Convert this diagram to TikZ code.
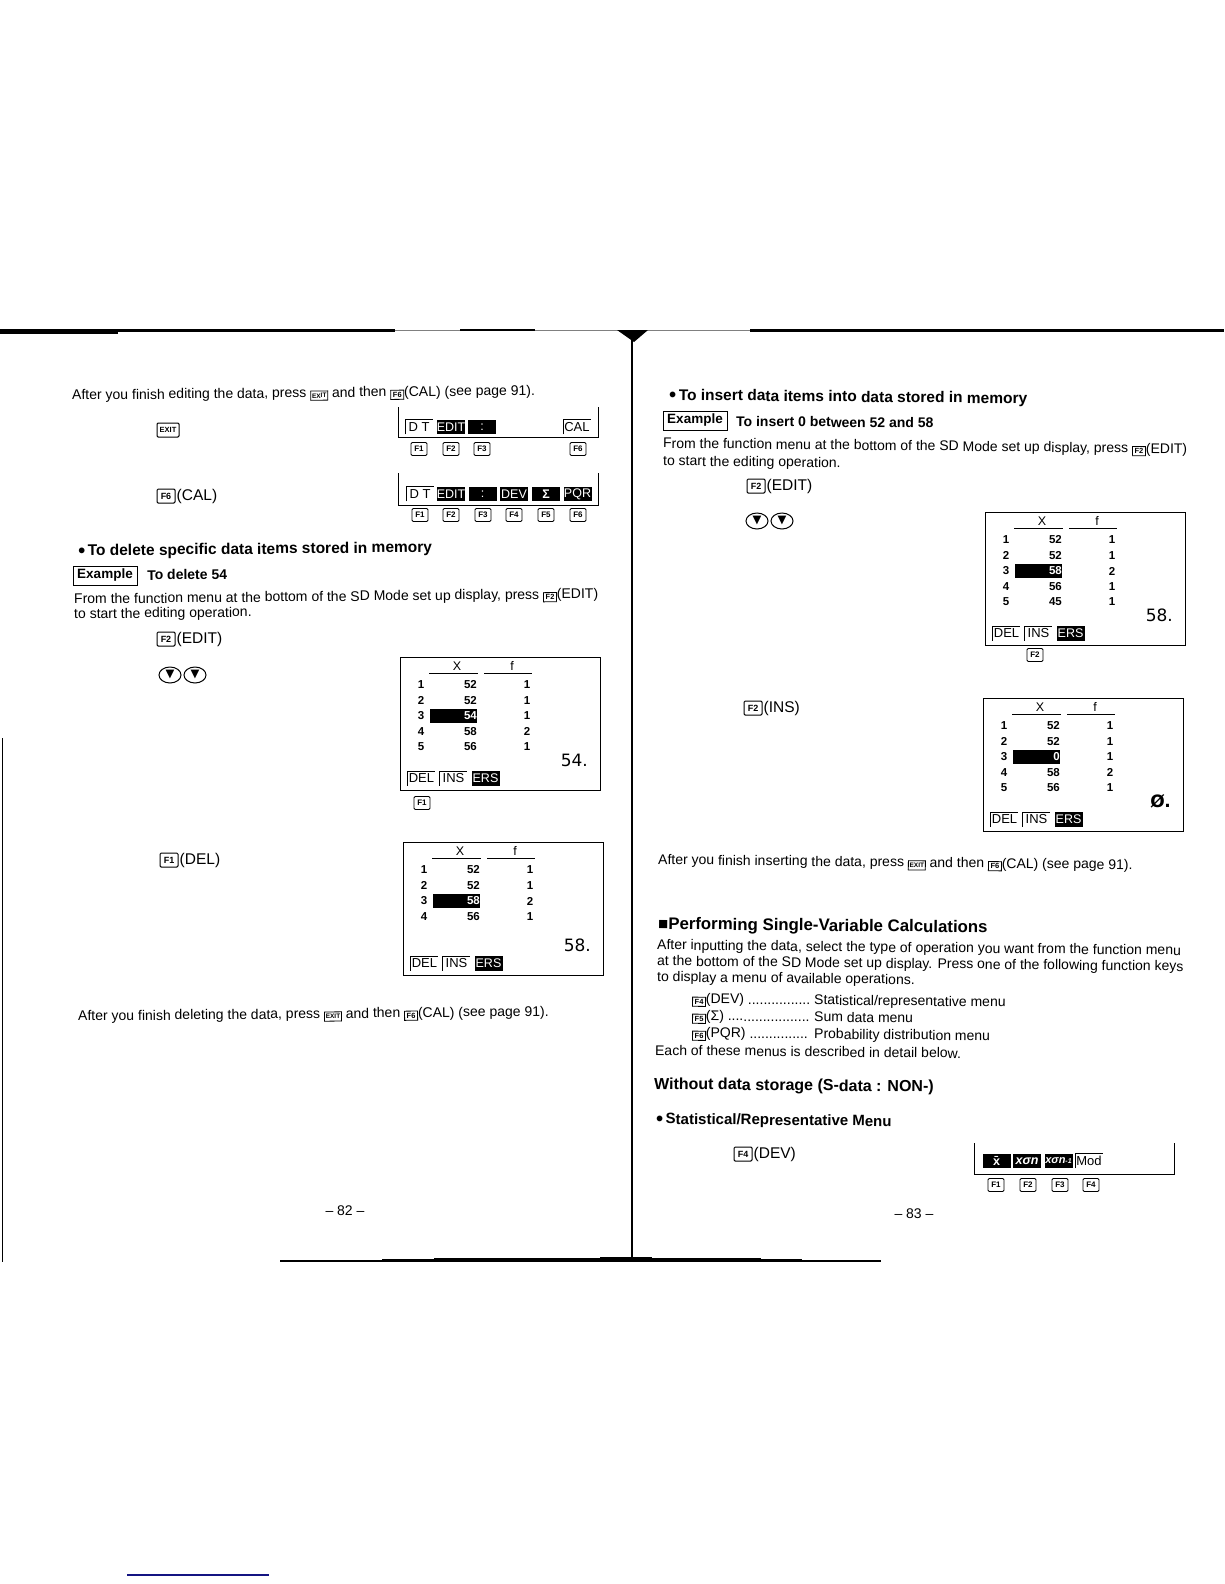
\documentclass[tikz,border=0pt]{standalone}
\usepackage{fontspec}
\setmainfont{Liberation Sans}
\newfontfamily\dejavu{DejaVu Sans}
\usetikzlibrary{positioning,shapes.geometric}

\newcommand{\keyin}[1]{\raisebox{-0.6pt}{\setlength{\fboxsep}{0.6pt}\setlength{\fboxrule}{.8pt}\fbox{\makebox[11pt]{\rule[-1.2pt]{0pt}{7.2pt}\fontsize{7.5}{7}\selectfont\bfseries #1}}}}
\newcommand{\exitin}{\raisebox{-0.6pt}{\setlength{\fboxsep}{0.6pt}\setlength{\fboxrule}{.8pt}\fbox{\makebox[15pt]{\rule[-1.2pt]{0pt}{7.2pt}\fontsize{6.5}{7}\selectfont\bfseries EXIT}}}}
\newcommand{\headdot}{\raisebox{-1.5pt}{\fontsize{20}{20}\selectfont\textbullet}}

\tikzset{
  bodyl/.style={anchor=west,inner sep=0pt,rotate=0.6,font=\fontsize{14}{15}\selectfont},
  bodyr/.style={anchor=west,inner sep=0pt,rotate=-0.6,font=\fontsize{14}{15}\selectfont},
  headl/.style={bodyl,font=\fontsize{15.5}{17}\selectfont\bfseries},
  headr/.style={bodyr,font=\fontsize{15.5}{17}\selectfont\bfseries},
  boldl/.style={bodyl,font=\fontsize{14}{15}\selectfont\bfseries},
  boldr/.style={bodyr,font=\fontsize{14}{15}\selectfont\bfseries},
  exbox/.style={draw,line width=1pt,inner sep=0pt,minimum height=19pt,font=\fontsize{13.5}{15}\selectfont\bfseries},
  keycap/.style={draw,line width=.9pt,rounded corners=1.2pt,inner sep=0pt,minimum width=16pt,minimum height=13pt,font=\fontsize{8}{8}\selectfont\bfseries},
  keymain/.style={keycap,line width=1pt,minimum width=18pt,minimum height=14pt,font=\fontsize{9}{9}\selectfont\bfseries},
  downkey/.style={draw,line width=1pt,ellipse,inner sep=0pt,minimum width=22pt,minimum height=16pt,font=\dejavu\fontsize{11.5}{11}\selectfont},
  softfill/.style={fill=black,text=white,inner sep=0pt,minimum width=28pt,minimum height=14.5pt,font=\fontsize{12.5}{13}\selectfont},
  softopen/.style={inner sep=0pt,minimum width=27pt,minimum height=14.5pt,font=\fontsize{13}{13}\selectfont},
  lcdframe/.style={draw,line width=1pt,inner sep=0pt,minimum width=200pt,minimum height=133pt},
  lcdbar/.style={fill=black,inner sep=0pt,minimum width=47pt,minimum height=14pt},
  lcdcell/.style={inner sep=0pt,font=\fontsize{11.5}{12}\selectfont\bfseries},
  lcdbig/.style={anchor=east,inner sep=0pt,font=\dejavu\fontsize{17}{17}\selectfont},
  keytext/.style={inner sep=0pt,font=\fontsize{15.5}{16}\selectfont},
  pagenum/.style={inner sep=0pt,font=\fontsize{14}{15}\selectfont},
}

% open softkey: left and top edge only
\newcommand{\softkey}[3]{
  \node[softopen] (#1) at #2 {#3};
  \draw[line width=.8pt] (#1.south west) -- (#1.north west) -- (#1.north east);
}

% data screen, rows as idx/x/f, drawn at the place of the first one
\newcommand{\lcdscreen}[5]{
  \begin{scope}[shift={(#2,#3)}]
    \node[lcdframe] (#1-frame) at (500.5,723.5) {};
    \node[lcdcell,font=\fontsize{12.5}{13}\selectfont] (#1-x) at (457,666) {X};
    \node[lcdcell,font=\fontsize{12.5}{13}\selectfont] (#1-f) at (512,666) {f};
    \draw[line width=1pt] (429,673.5) -- (478,673.5) (484,673) -- (532,673);
    \node[lcdbar] (#1-bar) at (453.5,715.5) {};
    \foreach \idx/\val/\frq in {#4} {
      \pgfmathsetmacro\yy{669.5+15.5*\idx}
      \ifnum\idx=3 \def\valcol{white}\else\def\valcol{black}\fi
      \node[lcdcell] (#1-i\idx) at (421,\yy) {\idx};
      \node[lcdcell,anchor=east,text=\valcol] (#1-v\idx) at (477,\yy) {\val};
      \node[lcdcell] (#1-n\idx) at (527,\yy) {\frq};
    }
    \node[lcdbig] (#1-big) at (588,760) {#5};
    \softkey{#1-del}{(421.5,778.5)}{DEL}
    \softkey{#1-ins}{(453.5,778.5)}{INS}
    \node[softfill] (#1-ers) at (485.5,778.5) {ERS};
  \end{scope}
}

\begin{document}
\begin{tikzpicture}[x=1pt,y=-1pt]
\useasboundingbox (0,0) rectangle (1224,1584);

% scan edges
\fill (0,329) rectangle (395,332);
\fill (0,332) rectangle (118,334);
\fill (460,329) rectangle (535,331);
\fill (750,329) rectangle (1224,332);
\draw[gray,line width=1pt] (395,330) -- (460,330) (535,330) -- (750,330);
\fill (617,330) -- (648,330) -- (634,342) -- cycle;
\draw[line width=2pt] (632,335) -- (632,1260);
\draw[line width=.5pt] (2,738) -- (2,1262);
\fill (280,1260) rectangle (881,1261.5);
\fill (382,1258.5) rectangle (802,1260);
\fill (434,1257.5) rectangle (761,1260);
\fill (600,1256.5) rectangle (652,1260);
\draw[line width=1.2pt,color={rgb,255:red,20;green,20;blue,130}] (127,1575) -- (269,1575);

% left page
\node[bodyl] (endeditl) at (72,396.5) {After you finish editing the data, press \exitin{} and then \keyin{F6}(CAL) (see page 91).};
\node[keymain,minimum width=22pt,font=\fontsize{7.5}{8}\selectfont\bfseries] (exitkey) at (168,430) {EXIT};
\draw[line width=1pt] (398,407) -- (398,437) -- (598,437) -- (598,407);
\softkey{dta}{(419,427)}{D T}
\node[softfill] (dtb) at (451,427) {EDIT};
\node[softfill] (dtc) at (482,427) {:};
\softkey{dtcal}{(577,427)}{CAL}
\node[keycap] (ka1) at (419,449) {F1};
\node[keycap] (ka2) at (451,449) {F2};
\node[keycap] (ka3) at (482,449) {F3};
\node[keycap] (ka6) at (578,449) {F6};

\node[keymain] (calkey) at (166,496) {F6};
\node[keytext,right=1pt of calkey] (caltext) {(CAL)};
\draw[line width=1pt] (398,473) -- (398,505) -- (598,505) -- (598,473);
\softkey{dsa}{(420,494)}{D T}
\node[softfill] (dsb) at (451,494) {EDIT};
\node[softfill] (dsc) at (482.5,494) {:};
\node[softfill] (dsd) at (514,494) {DEV};
\node[softfill] (dse) at (546,494) {\bfseries Σ};
\node[softfill] (dsf) at (577.5,494) {PQR};
\node[keycap] (kb1) at (420,515) {F1};
\node[keycap] (kb2) at (451,515) {F2};
\node[keycap] (kb3) at (483,515) {F3};
\node[keycap] (kb4) at (514,515) {F4};
\node[keycap] (kb5) at (546,515) {F5};
\node[keycap] (kb6) at (578,515) {F6};

\node[headl] (delhead) at (78,552) {\headdot\,To delete specific data items stored in memory};
\node[exbox,minimum width=64pt] (exdel) at (105,575.5) {Example};
\node[boldl] (extext) at (147,575) {To delete 54};
\node[bodyl] (fromdel) at (74,600.5) {From the function menu at the bottom of the SD Mode set up display, press \keyin{F2}(EDIT)};
\node[bodyl] (fromdelb) at (74,615) {to start the editing operation.};
\node[keymain] (editkey) at (166,639) {F2};
\node[keytext,right=1pt of editkey] (edittext) {(EDIT)};
\node[downkey] (dla) at (170,675) {▼};
\node[downkey] (dlb) at (195,675) {▼};

\lcdscreen{lcda}{0}{0}{1/52/1,2/52/1,3/54/1,4/58/2,5/56/1}{54.}
\node[keycap] (ka7) at (422,803) {F1};

\node[keymain] (delkey) at (169,860) {F1};
\node[keytext,right=1pt of delkey] (deltext) {(DEL)};
\lcdscreen{lcdb}{3}{185}{1/52/1,2/52/1,3/58/2,4/56/1}{58.}
\node[bodyl] (enddel) at (78,1017.5) {After you finish deleting the data, press \exitin{} and then \keyin{F6}(CAL) (see page 91).};
\node[pagenum] (pagel) at (345,1211) {-- 82 --};

% right page
\node[headr] (inshead) at (669,396) {\headdot\,To insert data items into data stored in memory};
\node[exbox,minimum width=64pt] (exins) at (695,420.5) {Example};
\node[boldr] (instext) at (736,421) {To insert 0 between 52 and 58};
\node[bodyr] (fromins) at (663,444.5) {From the function menu at the bottom of the SD Mode set up display, press \keyin{F2}(EDIT)};
\node[bodyr] (frominsb) at (663,462) {to start the editing operation.};
\node[keymain] (editkeyr) at (756,486) {F2};
\node[keytext,right=1pt of editkeyr] (edittextr) {(EDIT)};
\node[downkey] (dra) at (757,521) {▼};
\node[downkey] (drb) at (782,521) {▼};

\lcdscreen{lcdc}{585}{-145}{1/52/1,2/52/1,3/58/2,4/56/1,5/45/1}{58.}
\node[keycap] (kc2) at (1035,655) {F2};

\node[keymain] (inskey) at (753,708) {F2};
\node[keytext,right=1pt of inskey] (instextb) {(INS)};
\lcdscreen{lcdd}{583}{41}{1/52/1,2/52/1,3/0/1,4/58/2,5/56/1}{\bfseries Ø.}
\node[bodyr] (endins) at (658,861) {After you finish inserting the data, press \exitin{} and then \keyin{F6}(CAL) (see page 91).};

\node[headr,font=\fontsize{16.8}{18}\selectfont\bfseries] (perfhead) at (658,925) {■Performing Single-Variable Calculations};
\node[bodyr] (para1) at (657,946) {After inputting the data, select the type of operation you want from the function menu};
\node[bodyr] (para2) at (657,962) {at the bottom of the SD Mode set up display. Press one of the following function keys};
\node[bodyr] (para3) at (657,978) {to display a menu of available operations.};
\node[bodyr] (menu1) at (692,1000) {\makebox[122pt][l]{\keyin{F4}(DEV) ................}Statistical/representative menu};
\node[bodyr] (menu2) at (692,1017) {\makebox[122pt][l]{\keyin{F5}(Σ) .....................}Sum data menu};
\node[bodyr] (menu3) at (692,1034) {\makebox[122pt][l]{\keyin{F6}(PQR) ...............}Probability distribution menu};
\node[bodyr] (eachmenu) at (655,1050) {Each of these menus is described in detail below.};
\node[headr,font=\fontsize{16}{18}\selectfont\bfseries] (nostore) at (654,1085) {Without data storage (S-data : NON-)};
\node[boldr,font=\fontsize{15}{16}\selectfont\bfseries] (statmenu) at (656,1120) {\headdot\,Statistical/Representative Menu};
\node[keymain] (devkey) at (743,1154) {F4};
\node[keytext,right=1pt of devkey] (devtext) {(DEV)};

\draw[line width=1pt] (974,1143) -- (974,1174) -- (1174,1174) -- (1174,1143);
\node[softfill] (dva) at (996.5,1161) {\bfseries x̄};
\node[softfill] (dvb) at (1027,1161) {\bfseries\itshape xσn};
\node[softfill,font=\fontsize{11}{12}\selectfont] (dvc) at (1058.5,1161) {\bfseries\itshape xσn\fontsize{7}{7}\selectfont -1};
\softkey{dvd}{(1089,1161)}{Mod}
\node[keycap] (kd1) at (996,1185) {F1};
\node[keycap] (kd2) at (1028,1185) {F2};
\node[keycap] (kd3) at (1060,1185) {F3};
\node[keycap] (kd4) at (1091,1185) {F4};
\node[pagenum] (pager) at (914,1214) {-- 83 --};
\end{tikzpicture}
\end{document}
